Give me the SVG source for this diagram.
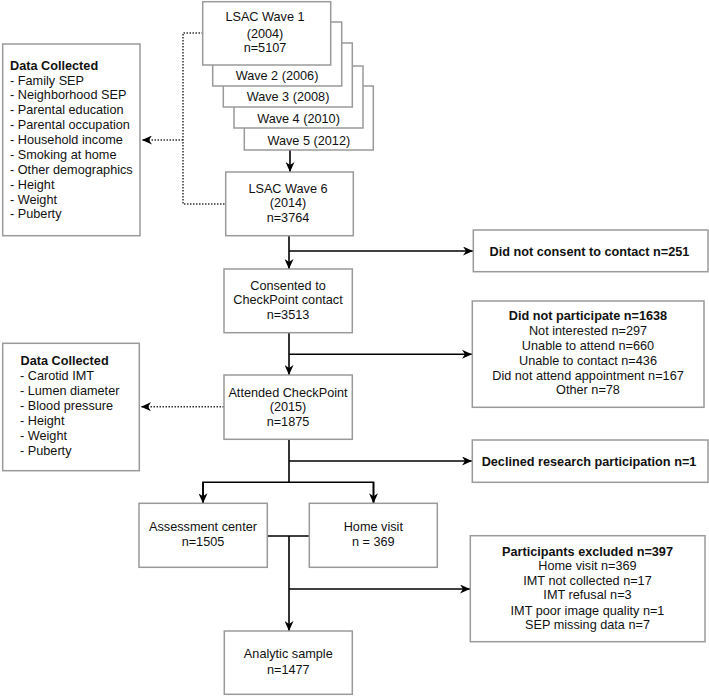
<svg xmlns="http://www.w3.org/2000/svg" width="709" height="696" viewBox="0 0 709 696">
<defs>
<style>
text{font-family:"Liberation Sans",Arial,Helvetica,sans-serif;font-size:12.7px;fill:#111}
.c{text-anchor:middle}
.b{font-weight:bold}
.box{fill:#fff;stroke:#9a9a9a;stroke-width:1.5}
.ln{fill:none;stroke:#000;stroke-width:1.6}
.dot{fill:none;stroke:#333;stroke-width:1.5;stroke-dasharray:1.5 1.5}
</style>
<marker id="ah" markerUnits="userSpaceOnUse" markerWidth="10" markerHeight="9" viewBox="0 0 10 9" refX="10" refY="4.5" orient="auto">
<path d="M0,0 L10,4.5 L0,9 L3,4.5 Z" fill="#000"/>
</marker>
</defs>
<rect width="709" height="696" fill="#fff"/>

<g id="connectors">
<path class="dot" d="M203,33 H183 V204 H226"/>
<path class="dot" d="M183,140 H142" marker-end="url(#ah)"/>
<path class="dot" d="M224,406.7 H141" marker-end="url(#ah)"/>
<path class="ln" d="M290,150 V172" marker-end="url(#ah)"/>
<path class="ln" d="M289,236 V269" marker-end="url(#ah)"/>
<path class="ln" d="M289,251 H473" marker-end="url(#ah)"/>
<path class="ln" d="M289,333 V375" marker-end="url(#ah)"/>
<path class="ln" d="M289,354.3 H472" marker-end="url(#ah)"/>
<path class="ln" d="M289,439.5 V482.3"/>
<path class="ln" d="M289,461 H472" marker-end="url(#ah)"/>
<path class="ln" d="M203,503 V482.3 H373.5 V503" />
<path class="ln" d="M203,482.3 V503.3" marker-end="url(#ah)"/>
<path class="ln" d="M373.5,482.3 V503.3" marker-end="url(#ah)"/>
<path class="ln" d="M267,536 H309"/>
<path class="ln" d="M289,536 V631" marker-end="url(#ah)"/>
<path class="ln" d="M289,589 H470" marker-end="url(#ah)"/>
</g>

<g id="wave5"><rect class="box" x="244.3" y="86" width="129" height="64"/><text class="c" x="308.8" y="144.5">Wave 5 (2012)</text></g>
<g id="wave4"><rect class="box" x="234" y="66" width="129" height="62"/><text class="c" x="298.5" y="122.8">Wave 4 (2010)</text></g>
<g id="wave3"><rect class="box" x="223.3" y="43" width="129" height="64"/><text class="c" x="288" y="101.2">Wave 3 (2008)</text></g>
<g id="wave2"><rect class="box" x="212.7" y="22" width="129" height="64"/><text class="c" x="277" y="79.5">Wave 2 (2006)</text></g>
<g id="wave1"><rect class="box" x="202.7" y="1.7" width="128" height="63.3"/>
<text class="c" x="265" y="21.2">LSAC Wave 1</text><text class="c" x="265" y="37.8">(2004)</text><text class="c" x="265" y="52.2">n=5107</text></g>

<g id="data1"><rect class="box" x="2.7" y="44" width="137.3" height="191.7"/>
<text x="10" y="69.5" class="b">Data Collected</text>
<text x="10" y="84.5">- Family SEP</text>
<text x="10" y="99">- Neighborhood SEP</text>
<text x="10" y="114">- Parental education</text>
<text x="10" y="128.8">- Parental occupation</text>
<text x="10" y="143.8">- Household income</text>
<text x="10" y="158.8">- Smoking at home</text>
<text x="10" y="173.5">- Other demographics</text>
<text x="10" y="188.5">- Height</text>
<text x="10" y="203.5">- Weight</text>
<text x="10" y="218.2">- Puberty</text>
</g>

<g id="wave6"><rect class="box" x="225.7" y="172" width="127.6" height="63.7"/>
<text class="c" x="288" y="192.8">LSAC Wave 6</text><text class="c" x="288" y="207.2">(2014)</text><text class="c" x="288" y="221.7">n=3764</text></g>

<g id="noconsent"><rect class="box" x="473.3" y="230" width="234.7" height="41.7"/>
<text class="c b" x="589.5" y="255.5">Did not consent to contact n=251</text></g>

<g id="consented"><rect class="box" x="224" y="269" width="128.3" height="63.7"/>
<text class="c" x="288" y="289.5">Consented to</text><text class="c" x="288" y="303.8">CheckPoint contact</text><text class="c" x="288" y="318.8">n=3513</text></g>

<g id="noparticipate"><rect class="box" x="472.3" y="301" width="231.7" height="106.3"/>
<text class="c b" x="588" y="320.2">Did not participate n=1638</text>
<text class="c" x="588" y="335.2">Not interested n=297</text>
<text class="c" x="588" y="349.8">Unable to attend n=660</text>
<text class="c" x="588" y="364.5">Unable to contact n=436</text>
<text class="c" x="588" y="379.5">Did not attend appointment n=167</text>
<text class="c" x="588" y="393.8">Other n=78</text></g>

<g id="data2"><rect class="box" x="2.7" y="343.3" width="136.6" height="127.4"/>
<text x="20.5" y="365.2" class="b">Data Collected</text>
<text x="20" y="380.2">- Carotid IMT</text>
<text x="20" y="395.2">- Lumen diameter</text>
<text x="20" y="410">- Blood pressure</text>
<text x="20" y="425">- Height</text>
<text x="20" y="439.5">- Weight</text>
<text x="20" y="454.8">- Puberty</text></g>

<g id="attended"><rect class="box" x="224" y="375" width="128.3" height="64.3"/>
<text class="c" x="288" y="396.8">Attended CheckPoint</text><text class="c" x="288" y="411.2">(2015)</text><text class="c" x="288" y="426.2">n=1875</text></g>

<g id="declined"><rect class="box" x="472.3" y="440" width="235.7" height="42.3"/>
<text class="c b" x="589" y="465.5">Declined research participation n=1</text></g>

<g id="assessment"><rect class="box" x="139" y="503.3" width="128.3" height="64"/>
<text class="c" x="203" y="531.2">Assessment center</text><text class="c" x="203" y="546.2">n=1505</text></g>

<g id="homevisit"><rect class="box" x="309.3" y="503.3" width="128" height="64"/>
<text class="c" x="373.3" y="530.5">Home visit</text><text class="c" x="373.3" y="546.2">n = 369</text></g>

<g id="excluded"><rect class="box" x="470.3" y="535.7" width="234.7" height="106"/>
<text class="c b" x="587.5" y="555.5">Participants excluded n=397</text>
<text class="c" x="587.5" y="569.5">Home visit n=369</text>
<text class="c" x="587.5" y="584.5">IMT not collected n=17</text>
<text class="c" x="587.5" y="598.8">IMT refusal n=3</text>
<text class="c" x="587.5" y="614.5">IMT poor image quality n=1</text>
<text class="c" x="587.5" y="628.8">SEP missing data n=7</text></g>

<g id="analytic"><rect class="box" x="224.3" y="631" width="128" height="63.3"/>
<text class="c" x="288.3" y="657.8">Analytic sample</text><text class="c" x="288.3" y="673.5">n=1477</text></g>
</svg>
